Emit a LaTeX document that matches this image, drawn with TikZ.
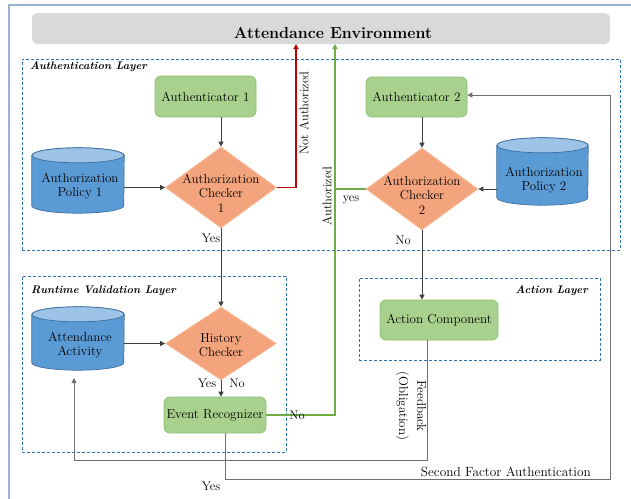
\documentclass[tikz,border=0pt]{standalone}
\usepackage{fontspec}
\usetikzlibrary{shapes.geometric,arrows.meta,calc}
\definecolor{framecol}{HTML}{9BB3D1}
\definecolor{barcol}{HTML}{D9D9D9}
\definecolor{laycol}{HTML}{2E75B6}
\definecolor{greenfill}{HTML}{A9D18E}
\definecolor{greenborder}{HTML}{8CBF6E}
\definecolor{orangefill}{HTML}{F4A47C}
\definecolor{orangeborder}{HTML}{F7BE9E}
\definecolor{cylbody}{HTML}{5B9BD5}
\definecolor{cyltop}{HTML}{9DC3E6}
\definecolor{cylborder}{HTML}{3C6E9F}
\definecolor{linecol}{HTML}{404040}
\definecolor{feedcol}{HTML}{707070}
\definecolor{redcol}{HTML}{C00000}
\definecolor{greencol}{HTML}{70AD47}
\newcommand{\drawcylinder}[2]{%
  \filldraw[fill=cylbody, draw=cylborder, line width=0.7pt]
    ($(#1.north west)+(0,7.5)$) -- ($(#1.south west)+(0,-7.5)$)
    arc[start angle=180, end angle=360, x radius=#2pt, y radius=7.5pt]
    -- ($(#1.north east)+(0,7.5)$)
    arc[start angle=0, end angle=180, x radius=#2pt, y radius=7.5pt] -- cycle;
  \filldraw[fill=cyltop, draw=cylborder, line width=0.7pt]
    ($(#1.north)+(0,7.5)$) ellipse[x radius=#2pt, y radius=7.5pt];
}
\begin{document}
\begin{tikzpicture}[x=1pt,y=-1pt,
  txt/.style={inner sep=0pt, align=center, font=\fontsize{13}{14.5}\selectfont},
  greenbox/.style={rectangle, rounded corners=6pt, fill=greenfill, draw=greenborder, line width=0.7pt, inner sep=0pt, font=\fontsize{13}{14.5}\selectfont, align=center},
  checker/.style={diamond, fill=orangefill, draw=orangeborder, line width=0.7pt, inner sep=0pt},
  cylnode/.style={rectangle, inner sep=0pt, draw=none},
  layer/.style={rectangle, draw=laycol, dash pattern=on 3pt off 2pt, line width=1pt, inner sep=0pt},
  laylab/.style={inner sep=0pt, font=\fontsize{11}{12}\selectfont\bfseries\itshape},
  lab/.style={inner sep=0pt, font=\fontsize{12.5}{14}\selectfont},
  conn/.style={draw=linecol, line width=0.8pt, -{Triangle[length=5pt,width=5pt]}},
  feed/.style={draw=feedcol, line width=0.9pt},
]
\useasboundingbox (0,0) rectangle (631,498);
% outer frame
\draw[framecol, line width=1.6pt] (9,640) -- (9,5) -- (640,5);
% environment bar
\node[rectangle, rounded corners=5pt, fill=barcol, minimum width=578pt, minimum height=31pt, inner sep=0pt] (env) at (321,28.5) {};
\node[inner sep=0pt, font=\fontsize{16}{18}\selectfont\bfseries] (envt) at (333,33) {Attendance Environment};
% layers
\node[layer, minimum width=598pt, minimum height=191pt] (authL) at (321,154.5) {};
\node[laylab, anchor=west] (authLt) at (30,67) {Authentication Layer};
\node[layer, minimum width=264pt, minimum height=176pt] (rvL) at (154,364) {};
\node[laylab, anchor=west] (rvLt) at (31,291) {Runtime Validation Layer};
\node[layer, minimum width=241pt, minimum height=82pt] (actL) at (479.5,319) {};
\node[laylab, anchor=east] (actLt) at (588,291) {Action Layer};
% nodes
\node[greenbox, minimum width=101pt, minimum height=41pt] (a1) at (205.5,96.5) {Authenticator 1};
\node[greenbox, minimum width=101pt, minimum height=40pt] (a2) at (416.5,97) {Authenticator 2};
\node[cylnode, minimum width=92pt, minimum height=65pt] (p1) at (78,180.5) {};
\drawcylinder{p1}{46}
\node[txt] (p1t) at (80,186) {Authorization\\Policy 1};
\node[checker, minimum width=111pt, minimum height=81pt] (c1) at (221,187.5) {};
\node[txt] (c1t) at (221,193) {Authorization\\Checker\\1};
\node[checker, minimum width=112pt, minimum height=82pt] (c2) at (422,189) {};
\node[txt] (c2t) at (422,195) {Authorization\\Checker\\2};
\node[cylnode, minimum width=91pt, minimum height=67pt] (p2) at (542.5,171.5) {};
\drawcylinder{p2}{45.5}
\node[txt] (p2t) at (544,180) {Authorization\\Policy 2};
\node[cylnode, minimum width=92pt, minimum height=63pt] (aa) at (78,338.5) {};
\drawcylinder{aa}{46}
\node[txt] (aat) at (80,345) {Attendance\\Activity};
\node[checker, minimum width=111pt, minimum height=73pt] (hc) at (221,343.5) {};
\node[txt] (hct) at (221,345) {History\\Checker};
\node[greenbox, minimum width=102pt, minimum height=36pt] (er) at (215,415) {Event Recognizer};
\node[greenbox, minimum width=118pt, minimum height=40pt] (ac) at (439,320) {Action Component};
% coordinates
\coordinate (nr) at (296,44);
\coordinate (au) at (335,44);
\coordinate (fb1) at (427,460);
\coordinate (fbEnd) at (74,378);
\coordinate (sf1) at (225,479);
\coordinate (sf2) at (610,95);
% connectors
\draw[conn] (a1.south -| c1.north) -- (c1.north);
\draw[conn] (a2.south -| c2.north) -- (c2.north);
\draw[conn] (p1.east |- c1.west) -- (c1.west);
\draw[conn] (p2.west |- c2.east) -- (c2.east);
\draw[draw=redcol, line width=1.2pt, -{Triangle[length=5pt,width=5pt]}] (c1.east) -| (nr);
\draw[draw=greencol, line width=1.2pt, -{Triangle[length=5pt,width=5pt]}] (er.east) -| (au);
\draw[draw=greencol, line width=1.2pt] (c2.west) -- (c2.west -| au);
\draw[conn] (c1.south) -- (hc.north);
\draw[conn] (c2.south) -- (c2.south |- ac.north);
\draw[conn] (aa.east |- hc.west) -- (hc.west);
\draw[conn] (hc.south) -- (hc.south |- er.north);
\draw[feed, -{Triangle[length=5pt,width=5pt]}] (ac.south -| fb1) -- (fb1) -| (fbEnd);
\draw[feed, -{Triangle[length=5pt,width=5pt]}] (er.south -| sf1) -- (sf1) -| (sf2) -- (a2.east |- sf2);
% labels
\node[lab, rotate=90] (lnotauth) at (304,113) {Not Authorized};
\node[lab, rotate=90] (lauth) at (327,196) {Authorized};
\node[lab] (lyes2) at (351,200) {yes};
\node[lab] (lyes1) at (211,238) {Yes};
\node[lab] (lno2) at (403,240) {No};
\node[lab] (lyes3) at (207,383) {Yes};
\node[lab] (lno3) at (237,383) {No};
\node[lab] (lno4) at (297,415) {No};
\node[lab, rotate=-90, align=center, font=\fontsize{13}{18}\selectfont] (lfeed) at (411,406) {Feedback\\(Obligation)};
\node[lab, anchor=east, font=\fontsize{13.3}{15}\selectfont] (lsf) at (591,472) {Second Factor Authentication};
\node[lab] (lyes4) at (211,486) {Yes};
\end{tikzpicture}
\end{document}
